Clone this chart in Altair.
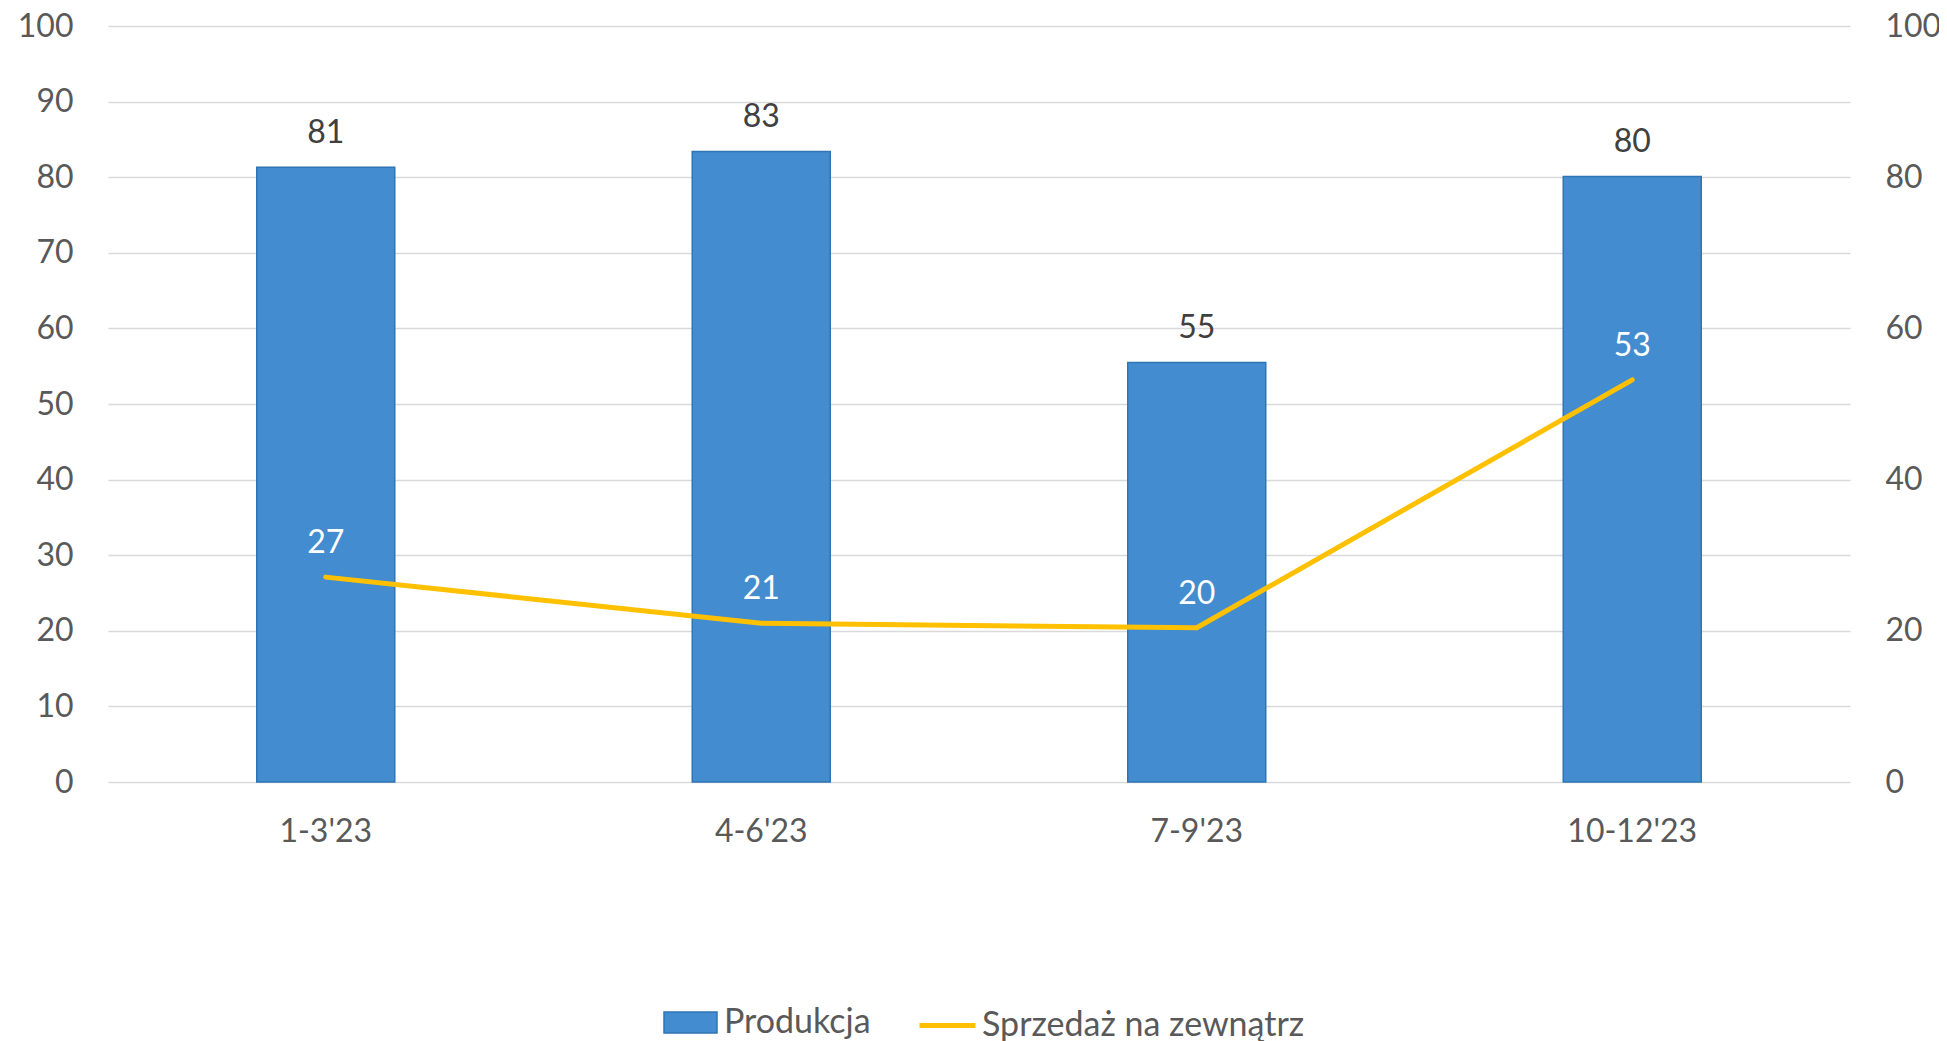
import altair as alt
import pandas as pd

categories = ["1-3'23", "4-6'23", "7-9'23", "10-12'23"]
produkcja = [81.3, 83.4, 55.5, 80.1]
produkcja_labels = ["81", "83", "55", "80"]
sprzedaz = [27.1, 21.0, 20.4, 53.2]
sprzedaz_labels = ["27", "21", "20", "53"]
left_ticks = [0, 10, 20, 30, 40, 50, 60, 70, 80, 90, 100]
right_ticks = [0, 20, 40, 60, 80, 100]
series_names = ["Produkcja", "Sprzedaż na zewnątrz"]

df = pd.DataFrame({
    "kw": categories,
    "prod": produkcja,
    "prod_lbl": produkcja_labels,
    "sprz": sprzedaz,
    "sprz_lbl": sprzedaz_labels,
    "s1": series_names[0],
    "s2": series_names[1],
})

FONT = "Lato"
AX = "#595959"
BAR = "#438CCF"
BAR_EDGE = "#2F74B5"
LINE = "#FFC000"

x = alt.X(
    "kw:N", sort=categories,
    scale=alt.Scale(paddingInner=0, paddingOuter=0),
    axis=alt.Axis(title=None, labelFontSize=32, labelColor=AX, labelFont=FONT,
                  labelAngle=0, domain=False, ticks=False, tickSize=0,
                  labelPadding=59, labelBaseline="alphabetic", grid=False),
)

yl_scale = alt.Scale(domain=[0, 100], nice=False)
yr_scale = alt.Scale(domain=[0, 100], nice=False)

yl_axis = alt.Axis(orient="left", title=None, values=left_ticks,
                   labelFontSize=32, labelColor=AX, labelFont=FONT,
                   domain=False, ticks=False, tickSize=0, labelPadding=35,
                   grid=True, gridColor="#D9D9D9", gridWidth=1.4)
yr_axis = alt.Axis(orient="right", title=None, values=right_ticks,
                   labelFontSize=32, labelColor=AX, labelFont=FONT,
                   domain=False, ticks=False, tickSize=0, labelPadding=35,
                   grid=False)

bar = alt.Chart(df).mark_bar(size=138, stroke=BAR_EDGE, strokeWidth=1.5).encode(
    x=x,
    y=alt.Y("prod:Q", scale=yl_scale, axis=yl_axis),
    fill=alt.Fill("s1:N", scale=alt.Scale(domain=[series_names[0]], range=[BAR]),
                  legend=alt.Legend(title=None, orient="none", legendX=555, legendY=969,
                                    symbolType="M-1,-0.4H1V0.4H-1Z", symbolSize=2809,
                                    symbolStrokeColor=BAR_EDGE, symbolStrokeWidth=1.5,
                                    labelFontSize=34, labelFont=FONT, labelColor=AX,
                                    labelOffset=6, labelLimit=1000, padding=0)),
)

bar_text = alt.Chart(df).mark_text(dy=-34, baseline="middle", fontSize=32,
                                   color="#404040", font=FONT).encode(
    x=x,
    y=alt.Y("prod:Q", scale=yl_scale, axis=yl_axis),
    text="prod_lbl:N",
)

line = alt.Chart(df).mark_line(strokeWidth=5, strokeCap="round", strokeJoin="round").encode(
    x=x,
    y=alt.Y("sprz:Q", scale=yr_scale, axis=yr_axis),
    stroke=alt.Stroke("s2:N", scale=alt.Scale(domain=[series_names[1]], range=[LINE]),
                      legend=alt.Legend(title=None, orient="none", legendX=809, legendY=969,
                                        symbolType="stroke", symbolSize=3136,
                                        symbolStrokeWidth=5,
                                        labelFontSize=34, labelFont=FONT, labelColor=AX,
                                        labelOffset=4, labelLimit=1000, padding=0)),
)

line_text = alt.Chart(df).mark_text(dy=-34, baseline="middle", fontSize=32,
                                    color="white", font=FONT).encode(
    x=x,
    y=alt.Y("sprz:Q", scale=yr_scale, axis=yr_axis),
    text="sprz_lbl:N",
)

chart = alt.layer(
    alt.layer(bar, bar_text),
    alt.layer(line, line_text),
).resolve_scale(y="independent").properties(
    width=1742, height=756,
    padding={"left": 100, "top": 18, "right": 89, "bottom": 259},
    autosize="none",
).configure_view(stroke=None)

chart.save("out.html", embed_options={"renderer": "svg", "actions": False})
